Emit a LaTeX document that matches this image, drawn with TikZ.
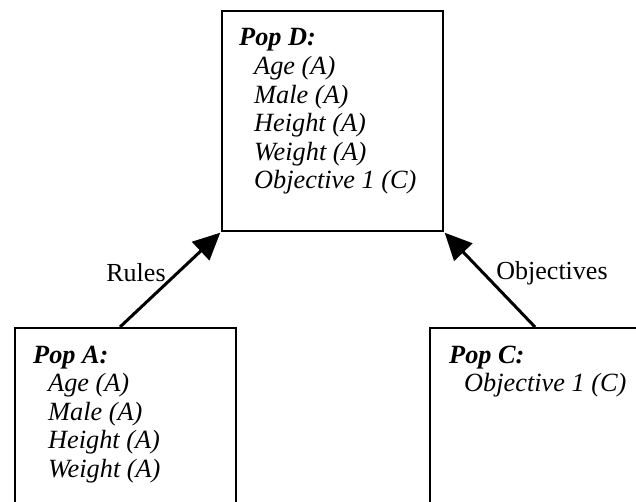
\documentclass[tikz,border=0pt]{standalone}
\usepackage{fontspec}
\setmainfont{Liberation Serif}
\usetikzlibrary{arrows.meta}
\tikzset{
  popbox/.style={draw=black, line width=2pt, rectangle, inner sep=0pt, anchor=north west},
  poptext/.style={anchor=base west, inner sep=0pt, font=\fontsize{26.3}{28.6}\selectfont\itshape},
  conn/.style={line width=3pt, -{Triangle[length=27pt,width=25pt]}},
  lbl/.style={inner sep=0pt, font=\fontsize{26}{28.6}\selectfont}
}
\newcommand{\ind}{\hspace*{15pt}}
\begin{document}
\begin{tikzpicture}[x=1pt,y=-1pt]
\useasboundingbox (0,0) rectangle (636,502);
\clip (0,0) rectangle (636,502);
% boxes
\node[popbox, minimum width=221pt, minimum height=220pt] (D) at (221,10) {};
\node[popbox, minimum width=221pt, minimum height=200pt] (A) at (14,327) {};
\node[popbox, minimum width=240pt, minimum height=200pt] (C) at (429,327) {};
% texts
\node[poptext] (Dt) at (239,46) {\begin{tabular}[t]{@{}l@{}}\textbf{Pop D:}\\ \ind Age (A)\\ \ind Male (A)\\ \ind Height (A)\\ \ind Weight (A)\\ \ind Objective 1 (C)\end{tabular}};
\node[poptext] (At) at (33,363) {\begin{tabular}[t]{@{}l@{}}\textbf{Pop A:}\\ \ind Age (A)\\ \ind Male (A)\\ \ind Height (A)\\ \ind Weight (A)\end{tabular}};
\node[poptext] (Ct) at (449,363) {\begin{tabular}[t]{@{}l@{}}\textbf{Pop C:}\\ \ind Objective 1 (C)\end{tabular}};
% connectors
\coordinate (a1) at (120,327);
\coordinate (c1) at (535,327);
\draw[conn, shorten >=1pt] (a1) -- (D.south west);
\draw[conn, shorten >=1pt] (c1) -- (D.south east);
\node[lbl] (r) at (136,273) {Rules};
\node[lbl] (o) at (552,273) {Objectives};
\end{tikzpicture}
\end{document}
